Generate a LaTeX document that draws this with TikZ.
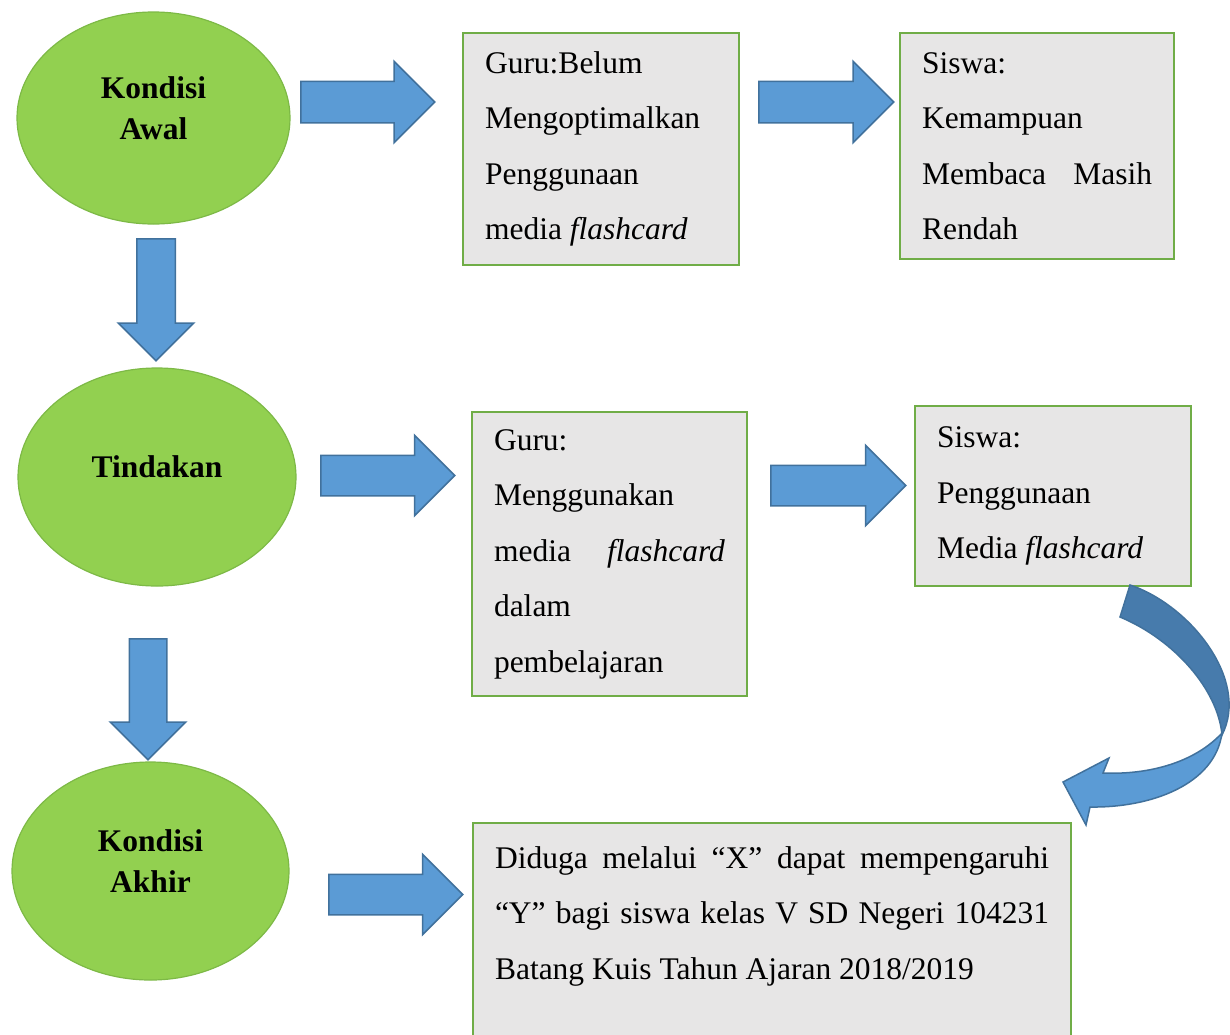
\documentclass[tikz,border=0pt]{standalone}
\usepackage{fontspec}
\setmainfont{Liberation Serif}
\usetikzlibrary{shapes.geometric,shapes.arrows}
\definecolor{hijau}{HTML}{92D050}
\definecolor{hijaugaris}{HTML}{7DB946}
\definecolor{kotakgaris}{HTML}{70AD47}
\definecolor{abu}{HTML}{E7E6E6}
\definecolor{biru}{HTML}{5B9BD5}
\definecolor{birugaris}{HTML}{41719C}
\definecolor{birutua}{HTML}{477BAC}
\setlength{\parindent}{0pt}
\begin{document}
\begin{tikzpicture}[x=1pt, y=-1pt,
  kondisi/.style={ellipse, fill=hijau, draw=hijaugaris, line width=1.2pt, inner sep=0pt},
  judul/.style={font=\fontsize{31.5}{41}\selectfont\bfseries, align=center},
  kotak/.style={draw=kotakgaris, fill=abu, line width=2pt, anchor=north west, inner xsep=22pt,
    align=justify, font=\fontsize{31.5}{55.5}\selectfont},
  panah/.style={single arrow, fill=biru, draw=birugaris, line width=1.5pt, inner xsep=0pt,
    anchor=tail}]
\useasboundingbox (0,0) rectangle (1230,1034);
\clip (0,0) rectangle (1230,1034);

\node[kondisi, minimum width=273pt, minimum height=212pt] (awal) at (153.5,118) {};
\node[judul] (awalteks) at ([yshift=10pt]awal.center) {Kondisi\\Awal};
\node[kondisi, minimum width=278pt, minimum height=218pt] (tindakan) at (157,477) {};
\node[judul] (tindakanteks) at ([yshift=10pt]tindakan.center) {Tindakan};
\node[kondisi, minimum width=277pt, minimum height=218pt] (akhir) at (150.5,871) {};
\node[judul] (akhirteks) at ([yshift=10pt]akhir.center) {Kondisi\\Akhir};

\node[kotak, text width=232pt, minimum height=232pt] (guru1) at (462,32)
  {Guru:Belum\\ Mengoptimalkan\\ Penggunaan\\ media \textit{flashcard}};
\node[kotak, text width=230pt, minimum height=226pt] (siswa1) at (899,32)
  {Siswa:\\ Kemampuan\\ Membaca Masih\linebreak Rendah};
\node[kotak, text width=231pt, minimum height=284pt] (guru2) at (471,411)
  {Guru:\\ Menggunakan\\ media \textit{flashcard}\linebreak dalam\\ pembelajaran};
\node[kotak, text width=232pt, minimum height=180pt] (siswa2) at (914,405)
  {Siswa:\\ Penggunaan\\ Media \textit{flashcard}};
\node[kotak, text width=554pt, inner ysep=23.5pt] (hasil) at (472,822)
  {Diduga melalui “X” dapat mempengaruhi\linebreak “Y” bagi siswa kelas V SD Negeri 104231\linebreak Batang Kuis Tahun Ajaran 2018/2019\\ \mbox{}};

\node[panah, minimum height=134pt, inner ysep=20pt, single arrow head extend=20pt] (p1) at (300,102) {};
\node[panah, minimum height=135pt, inner ysep=20pt, single arrow head extend=20pt] (p2) at (758,102) {};
\node[panah, minimum height=134pt, inner ysep=19.5pt, single arrow head extend=20pt] (p3) at (320,475.5) {};
\node[panah, minimum height=135pt, inner ysep=19.5pt, single arrow head extend=20pt] (p4) at (770,485.5) {};
\node[panah, minimum height=134pt, inner ysep=19.5pt, single arrow head extend=20pt] (p5) at (328,894.5) {};
\node[panah, rotate=-90, minimum height=122pt, inner ysep=18.5pt, single arrow head extend=18.5pt] (t1) at (156,238) {};
\node[panah, rotate=-90, minimum height=121pt, inner ysep=18pt, single arrow head extend=19pt] (t2) at (148,638) {};

\filldraw[fill=biru, draw=birugaris, line width=1.5pt] (1222,733) .. controls (1195,762) and (1150,775) .. (1103,773)
  -- (1109,758) -- (1063,782) -- (1086,825) -- (1090,807) .. controls (1150,808) and (1215,785) .. (1222,733) -- cycle;
\filldraw[fill=birutua, draw=birugaris, line width=1.5pt] (1130,585) .. controls (1190,605) and (1250,680) .. (1222,735)
  .. controls (1218,690) and (1175,640) .. (1120,617) -- cycle;
\end{tikzpicture}
\end{document}
